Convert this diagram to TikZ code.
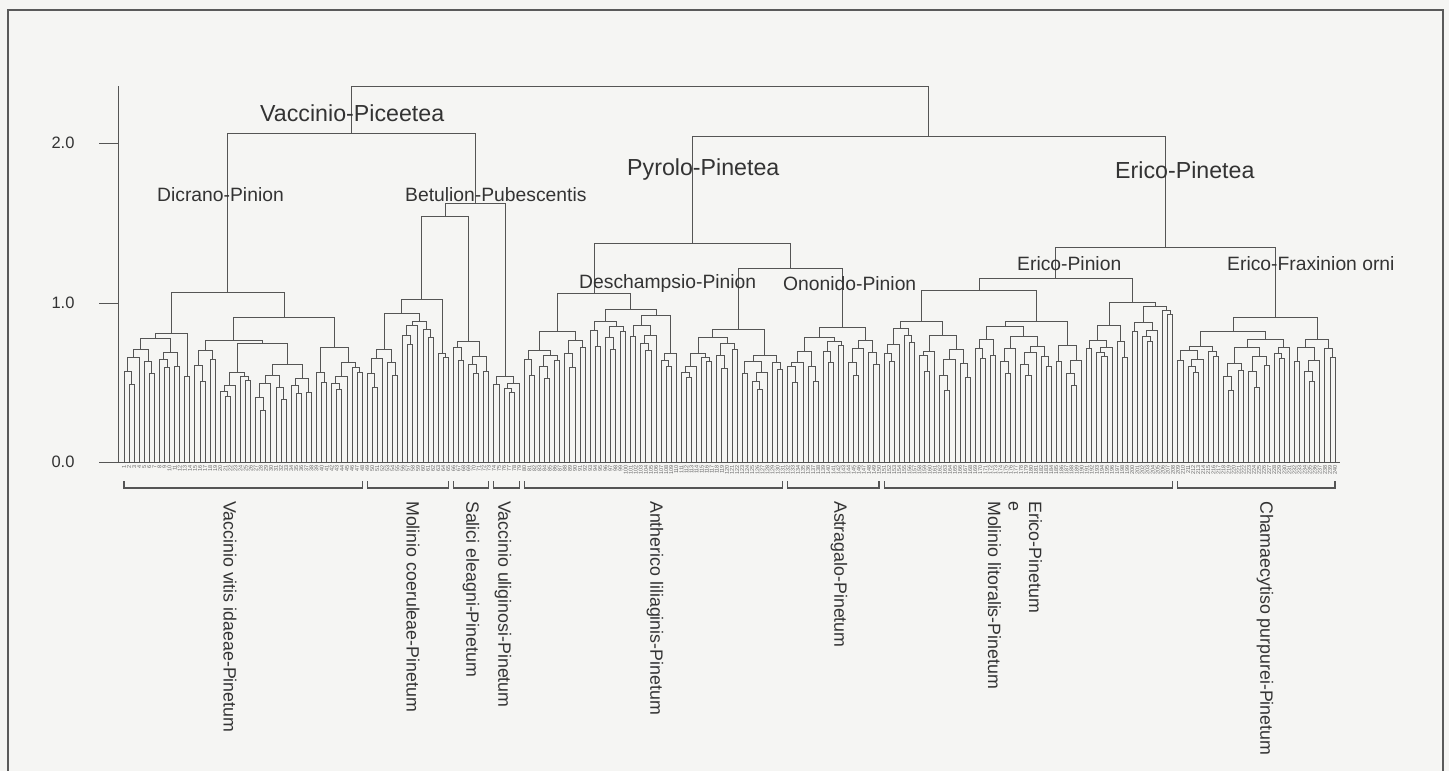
\documentclass[tikz,border=0pt]{standalone}
\usepackage{fontspec}
\setmainfont{Liberation Sans}
\definecolor{ln}{HTML}{555555}
\definecolor{tx}{HTML}{333333}
\definecolor{bg}{HTML}{F5F5F3}
\definecolor{fr}{HTML}{5A5A5A}

% merge: left cluster a..m, right cluster m+1..b, at height h (page y)
\newcommand\dmerge[4]{%
  \edef\mmp{\the\numexpr#2+1\relax}%
  \edef\xa{\csname DX#1t#2\endcsname}%
  \edef\xb{\csname DX\mmp t#3\endcsname}%
  \pgfmathsetmacro\tmpx{(\xa+\xb)/2}%
  \expandafter\xdef\csname DX#1t#3\endcsname{\tmpx}%
  \coordinate (k#1t#3) at (\tmpx,#4);%
  \draw[dl] (k#1t#2) -- (k#1t#2 |- k#1t#3) -- (k\mmp t#3 |- k#1t#3) -- (k\mmp t#3);%
}
% automatic sub-dendrogram for leaves a..b with top merge at height h
\newcommand\dauto[3]{%
  \ifnum#1<#2\relax
    \pgfmathtruncatemacro\am{#1+(#2-#1)*(3+mod(#1*7+#2*3,5))/10}%
    \pgfmathtruncatemacro\ada{min(#3+4+mod(#1*5+#2*11,13),440)}%
    \pgfmathtruncatemacro\adb{min(#3+4+mod(#1*13+#2*3,13),440)}%
    \edef\autonext{\noexpand\dauto{#1}{\am}{\ada}\noexpand\dauto{\the\numexpr\am+1\relax}{#2}{\adb}\noexpand\dmerge{#1}{\am}{#2}{#3}}%
    \expandafter\autonext\fi}
\newcommand\dbracket[2]{\draw[br] (k#1t#1 |- bt) -- (k#1t#1 |- bb) -- (k#2t#2 |- bb) -- (k#2t#2 |- bt);}

\begin{document}
\begin{tikzpicture}[x=1pt,y=-1pt,
  dl/.style={draw=ln,line width=0.9pt},
  br/.style={draw=ln,line width=1.1pt},
  frame/.style={draw=fr,line width=1.4pt},
  cls/.style={font=\fontsize{23.2}{26}\selectfont,text=tx,inner sep=0pt,anchor=west},
  all/.style={font=\fontsize{19.3}{22}\selectfont,text=tx,inner sep=0pt,anchor=west},
  asl/.style={font=\fontsize{17.8}{20.5}\selectfont,text=tx,inner sep=0pt,rotate=-90,anchor=west,align=left},
  axl/.style={font=\fontsize{16.5}{18}\selectfont,text=tx,inner sep=0pt},
  lnum/.style={font=\fontsize{5.5}{6}\selectfont,text=tx!75,inner sep=0pt,rotate=90,anchor=east}]
\useasboundingbox (0,0) rectangle (1449,771);
\fill[bg] (0,0) rectangle (1449,771);
\draw[frame] (8,771) -- (8,10) -- (1443,10) -- (1443,771);

% axis
\coordinate (axtop) at (118,86);
\coordinate (ax0) at (118,462);
\coordinate (ax1) at (118,303);
\coordinate (ax2) at (118,143);
\coordinate (bl0) at (99,462);
\coordinate (bl1) at (1340,462);
\draw[dl] (axtop) -- (ax0);
\draw[dl] (ax2) -- ++(-19,0);
\draw[dl] (ax1) -- ++(-19,0);
\draw[dl] (bl0) -- (bl1);
\node[axl] (t2) at (63,143) {2.0};
\node[axl] (t1) at (63,303) {1.0};
\node[axl] (t0) at (63,462) {0.0};

% leaves
\foreach \i in {1,...,240}{%
  \pgfmathsetmacro\tmpx{124+(\i-1)*5.067}%
  \expandafter\xdef\csname DX\i t\i\endcsname{\tmpx}%
  \coordinate (k\i t\i) at (\tmpx,462);
  \node[lnum] (n\i) at ([yshift=-3pt]k\i t\i) {\i};
}

% Dicrano-Pinion (Vaccinio vitis idaeae-Pinetum)
\dauto{1}{12}{338}
\dauto{13}{14}{376}
\dmerge{1}{12}{14}{333}
\dauto{15}{19}{350}
\dauto{20}{26}{372}
\dauto{27}{38}{364}
\dmerge{20}{26}{38}{343}
\dmerge{15}{19}{38}{340}
\dauto{39}{41}{372}
\dauto{42}{48}{362}
\dmerge{39}{41}{48}{347}
\dmerge{15}{38}{48}{317}
\dmerge{1}{14}{48}{292}
% Betulion-Pubescentis
\dauto{49}{55}{349}
\dauto{56}{62}{321}
\dmerge{49}{55}{62}{313}
\dauto{63}{65}{353}
\dmerge{49}{62}{65}{299}
\dauto{66}{73}{341}
\dmerge{49}{65}{73}{216}
\dauto{74}{79}{376}
\dmerge{49}{73}{79}{203}
% Vaccinio-Piceetea
\dmerge{1}{48}{79}{133}
% Deschampsio-Pinion
\dauto{80}{87}{350}
\dauto{88}{92}{340}
\dmerge{80}{87}{92}{331}
\dauto{93}{100}{321}
\dauto{101}{106}{325}
\dauto{107}{110}{353}
\dmerge{101}{106}{110}{315}
\dmerge{93}{100}{110}{309}
\dmerge{80}{92}{110}{293}
% Ononido-Pinion
\dauto{111}{122}{337}
\dauto{123}{131}{355}
\dmerge{111}{122}{131}{329}
\dauto{132}{143}{337}
\dauto{144}{150}{340}
\dmerge{132}{143}{150}{327}
\dmerge{111}{131}{150}{268}
\dmerge{80}{110}{150}{243}
% Erico-Pinion
\dauto{151}{168}{321}
\dauto{169}{184}{326}
\dauto{185}{190}{345}
\dmerge{169}{184}{190}{321}
\dmerge{151}{168}{190}{290}
\dauto{191}{199}{325}
\dauto{200}{208}{306}
\dmerge{191}{199}{208}{302}
\dmerge{151}{190}{208}{278}
% Erico-Fraxinion orni
\dauto{209}{231}{331}
\dauto{232}{240}{339}
\dmerge{209}{231}{240}{317}
\dmerge{151}{208}{240}{247}
% Pyrolo-Pinetea and root
\dmerge{80}{150}{240}{136}
\dmerge{1}{79}{240}{86}

% group labels
\node[cls] (c1) at (260,113) {Vaccinio-Piceetea};
\node[cls] (c2) at (627,169) {Pyrolo-Pinetea};
\node[cls] (c3) at (1115,170) {Erico-Pinetea};
\node[all] (a1) at (157,195) {Dicrano-Pinion};
\node[all] (a2) at (405,195) {Betulion-Pubescentis};
\node[all] (a3) at (579,284) {Deschampsio-Pinion};
\node[all] (a4) at (783,284) {Ononido-Pinion};
\node[all] (a5) at (1017,264) {Erico-Pinion};
\node[all] (a6) at (1227,264) {Erico-Fraxinion orni};

% brackets
\coordinate (bb) at (0,488);
\coordinate (bt) at (0,481);
\dbracket{1}{48}
\dbracket{49}{65}
\dbracket{66}{73}
\dbracket{74}{79}
\dbracket{80}{131}
\dbracket{132}{150}
\dbracket{151}{208}
\dbracket{209}{240}

\node[asl] (s1) at (230,501) {Vaccinio vitis idaeae-Pinetum};
\node[asl] (s2) at (413,501) {Molinio coeruleae-Pinetum};
\node[asl] (s3) at (471,501) {Salici eleagni-Pinetum};
\node[asl] (s4) at (503,501) {Vaccinio uliginosi-Pinetum};
\node[asl] (s5) at (655,501) {Antherico liliaginis-Pinetum};
\node[asl] (s6) at (839,501) {Astragalo-Pinetum};
\node[asl] (s7) at (1015,501) {Erico-Pinetum\\e\\Molinio litoralis-Pinetum};
\node[asl] (s8) at (1265,501) {Chamaecytiso purpurei-Pinetum};
\end{tikzpicture}
\end{document}
